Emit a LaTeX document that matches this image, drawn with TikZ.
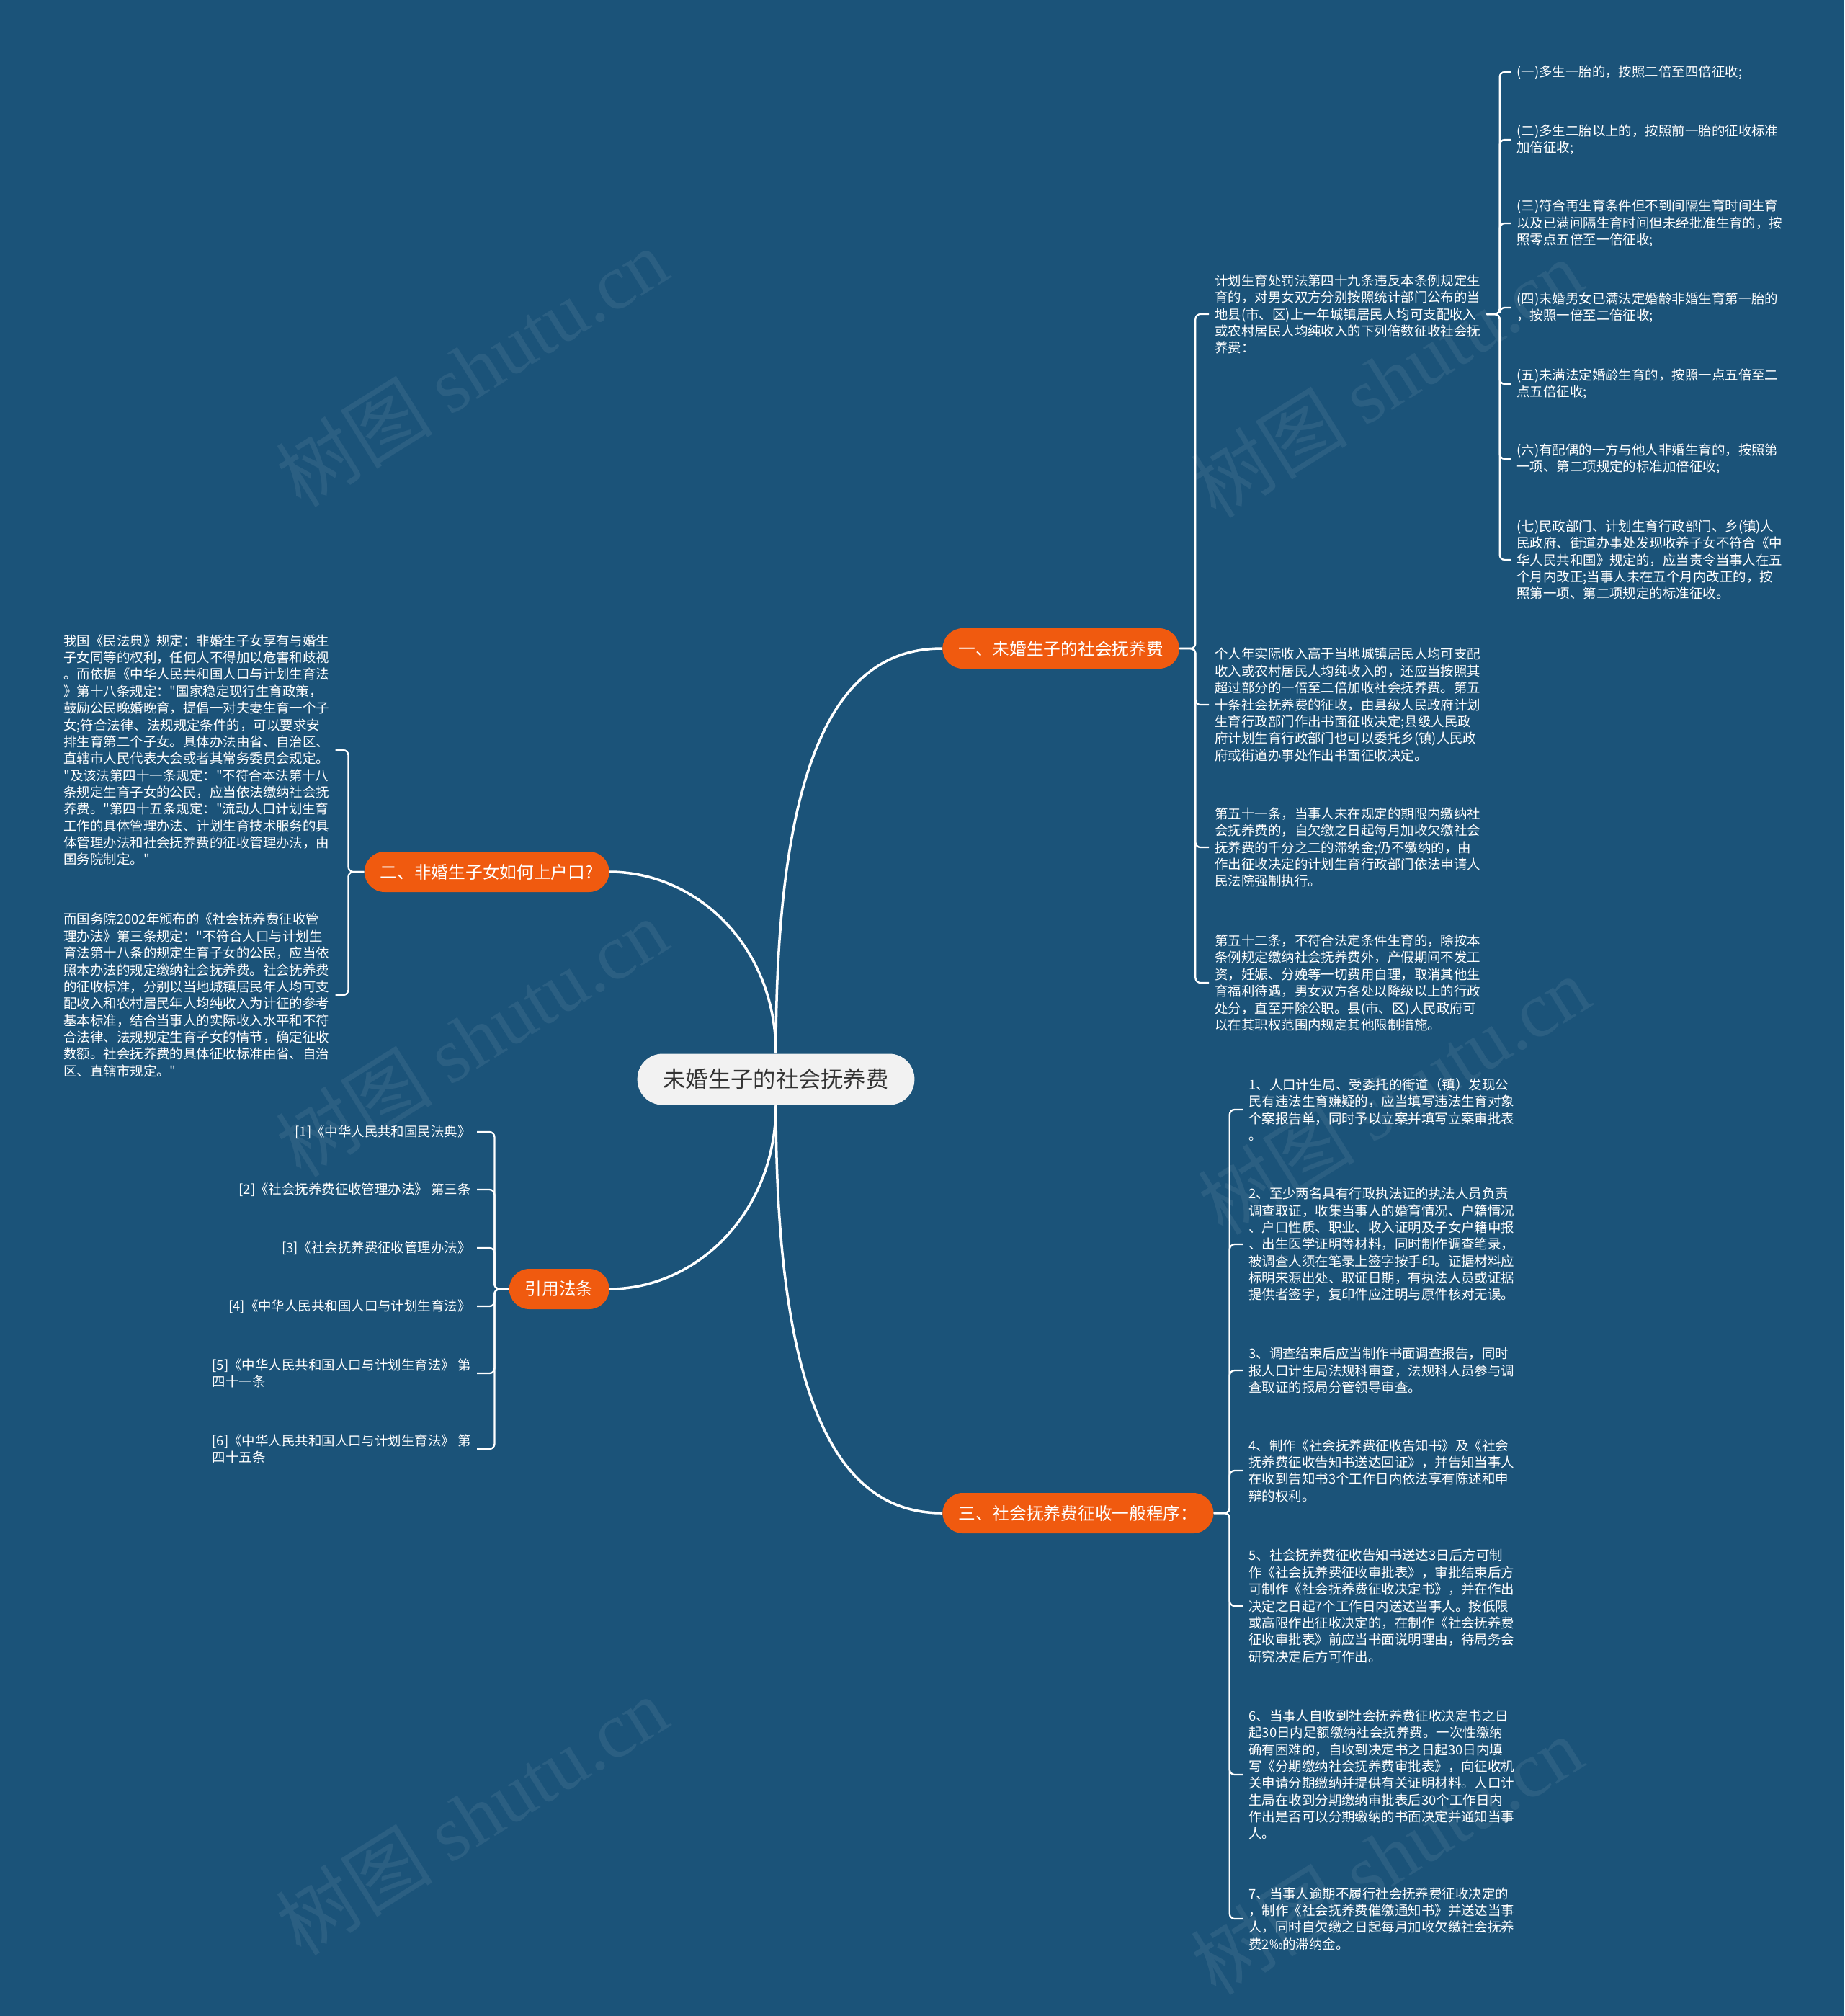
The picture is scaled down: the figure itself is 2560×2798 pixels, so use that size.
\documentclass[tikz,border=0pt]{standalone}
\usepackage{fontspec}
\setmainfont{Noto Sans CJK SC}[Ligatures=TeXOff]
\newfontfamily\wmfont{Liberation Serif}
\usepackage{xcolor}

\definecolor{bgblue}{HTML}{1B5379}
\definecolor{mainorange}{HTML}{F05A0F}
\definecolor{rootgray}{HTML}{F2F2F2}

\tikzset{
  root/.style={fill=rootgray, text=black!80, rounded corners=0.7cm, minimum height=1.42cm,
    inner xsep=0.72cm, font=\fontsize{17.8}{20}\selectfont},
  branch/.style={fill=mainorange, text=white, rounded corners=0.56cm, minimum height=1.12cm,
    inner xsep=0.44cm, font=\fontsize{13.5}{16}\selectfont},
  leaf/.style={text=white, align=left, inner xsep=0.16cm, inner ysep=0pt,
    font=\fontsize{10.5}{13.3}\selectfont},
  reftext/.style={leaf, anchor=east},
  link/.style={draw=white, line width=2pt},
  brace/.style={draw=white, line width=1.3pt, rounded corners=4pt},
  watermark/.style={text=white, opacity=0.07, rotate=32, font=\fontsize{62}{66}\selectfont}
}

\begin{document}
\begin{tikzpicture}[x=0.02cm, y=-0.02cm]

  % 0. 背景與浮水印
  \fill[bgblue] (0,0) rectangle (2560,2798);
  \useasboundingbox (0,0) rectangle (2560,2798);
  \foreach \wx/\wy in {655/510, 1925/525, 655/1440, 1935/1520, 655/2520, 1925/2575} {
    \node[watermark] at (\wx,\wy) {树图 {\wmfont shutu.cn}};
  }

  % 1. 中心主題
  \node[root] (root) at (1077,1498) {未婚生子的社会抚养费};

  % 2. 四個分支
  \node[branch, anchor=west] (fei) at (1308,900) {一、未婚生子的社会抚养费};
  \node[branch, anchor=east] (hukou) at (846,1210) {二、非婚生子女如何上户口?};
  \node[branch, anchor=east] (fatiao) at (846,1789) {引用法条};
  \node[branch, anchor=west] (chengxu) at (1308,2100) {三、社会抚养费征收一般程序：};

  \draw[link] (root.north) .. controls +(0,-464) and +(-120,0) .. (fei.west);
  \draw[link] (root.north) .. controls +(0,-150) and +(120,0) .. (hukou.east);
  \draw[link] (root.south) .. controls +(0,150) and +(120,0) .. (fatiao.east);
  \draw[link] (root.south) .. controls +(0,464) and +(-120,0) .. (chengxu.west);

  % 3. 一、未婚生子的社会抚养费
  \node[leaf, anchor=west] (fei1) at (1678,436) {计划生育处罚法第四十九条违反本条例规定生\\育的，对男女双方分别按照统计部门公布的当\\地县(市、区)上一年城镇居民人均可支配收入\\或农村居民人均纯收入的下列倍数征收社会抚\\养费：};
  \node[leaf, anchor=west] (fei2) at (1678,978) {个人年实际收入高于当地城镇居民人均可支配\\收入或农村居民人均纯收入的，还应当按照其\\超过部分的一倍至二倍加收社会抚养费。第五\\十条社会抚养费的征收，由县级人民政府计划\\生育行政部门作出书面征收决定;县级人民政\\府计划生育行政部门也可以委托乡(镇)人民政\\府或街道办事处作出书面征收决定。};
  \node[leaf, anchor=west] (fei3) at (1678,1176) {第五十一条，当事人未在规定的期限内缴纳社\\会抚养费的，自欠缴之日起每月加收欠缴社会\\抚养费的千分之二的滞纳金;仍不缴纳的，由\\作出征收决定的计划生育行政部门依法申请人\\民法院强制执行。};
  \node[leaf, anchor=west] (fei4) at (1678,1364) {第五十二条，不符合法定条件生育的，除按本\\条例规定缴纳社会抚养费外，产假期间不发工\\资，妊娠、分娩等一切费用自理，取消其他生\\育福利待遇，男女双方各处以降级以上的行政\\处分，直至开除公职。县(市、区)人民政府可\\以在其职权范围内规定其他限制措施。};

  \foreach \i in {1,...,4} {
    \draw[brace] (fei.east) -- ++(22,0) |- (fei\i.west);
  }

  % 倍數細項
  \node[leaf, anchor=west] (bei1) at (2097,100) {(一)多生一胎的，按照二倍至四倍征收;};
  \node[leaf, anchor=west] (bei2) at (2097,194) {(二)多生二胎以上的，按照前一胎的征收标准\\加倍征收;};
  \node[leaf, anchor=west] (bei3) at (2097,310) {(三)符合再生育条件但不到间隔生育时间生育\\以及已满间隔生育时间但未经批准生育的，按\\照零点五倍至一倍征收;};
  \node[leaf, anchor=west] (bei4) at (2097,427) {(四)未婚男女已满法定婚龄非婚生育第一胎的\\，按照一倍至二倍征收;};
  \node[leaf, anchor=west] (bei5) at (2097,533) {(五)未满法定婚龄生育的，按照一点五倍至二\\点五倍征收;};
  \node[leaf, anchor=west] (bei6) at (2097,637) {(六)有配偶的一方与他人非婚生育的，按照第\\一项、第二项规定的标准加倍征收;};
  \node[leaf, anchor=west] (bei7) at (2097,777) {(七)民政部门、计划生育行政部门、乡(镇)人\\民政府、街道办事处发现收养子女不符合《中\\华人民共和国》规定的，应当责令当事人在五\\个月内改正;当事人未在五个月内改正的，按\\照第一项、第二项规定的标准征收。};

  \foreach \i in {1,...,7} {
    \draw[brace] (fei1.east) -- ++(18,0) |- (bei\i.west);
  }

  % 4. 二、非婚生子女如何上户口?
  \node[leaf, anchor=west] (hk1) at (80,1041) {我国《民法典》规定：非婚生子女享有与婚生\\子女同等的权利，任何人不得加以危害和歧视\\。而依据《中华人民共和国人口与计划生育法\\》第十八条规定："国家稳定现行生育政策，\\鼓励公民晚婚晚育，提倡一对夫妻生育一个子\\女;符合法律、法规规定条件的，可以要求安\\排生育第二个子女。具体办法由省、自治区、\\直辖市人民代表大会或者其常务委员会规定。\\"及该法第四十一条规定："不符合本法第十八\\条规定生育子女的公民，应当依法缴纳社会抚\\养费。"第四十五条规定："流动人口计划生育\\工作的具体管理办法、计划生育技术服务的具\\体管理办法和社会抚养费的征收管理办法，由\\国务院制定。"};
  \node[leaf, anchor=west] (hk2) at (80,1381) {而国务院2002年颁布的《社会抚养费征收管\\理办法》第三条规定："不符合人口与计划生\\育法第十八条的规定生育子女的公民，应当依\\照本办法的规定缴纳社会抚养费。社会抚养费\\的征收标准，分别以当地城镇居民年人均可支\\配收入和农村居民年人均纯收入为计征的参考\\基本标准，结合当事人的实际收入水平和不符\\合法律、法规规定生育子女的情节，确定征收\\数额。社会抚养费的具体征收标准由省、自治\\区、直辖市规定。"};

  \foreach \i in {1,2} {
    \draw[brace] (hukou.west) -- ++(-22,0) |- (hk\i.east);
  }

  % 5. 引用法条
  \node[reftext] (ft1) at (662,1571) {[1]《中华人民共和国民法典》};
  \node[reftext] (ft2) at (662,1651) {[2]《社会抚养费征收管理办法》 第三条};
  \node[reftext] (ft3) at (662,1732) {[3]《社会抚养费征收管理办法》};
  \node[reftext] (ft4) at (662,1813) {[4]《中华人民共和国人口与计划生育法》};
  \node[reftext] (ft5) at (662,1906) {[5]《中华人民共和国人口与计划生育法》 第\\四十一条};
  \node[reftext] (ft6) at (662,2011) {[6]《中华人民共和国人口与计划生育法》 第\\四十五条};

  \foreach \i in {1,...,6} {
    \draw[brace] (fatiao.west) -- ++(-20,0) |- (ft\i.east);
  }

  % 6. 三、社会抚养费征收一般程序
  \node[leaf, anchor=west] (cx1) at (1725,1540) {1、人口计生局、受委托的街道（镇）发现公\\民有违法生育嫌疑的，应当填写违法生育对象\\个案报告单，同时予以立案并填写立案审批表\\。};
  \node[leaf, anchor=west] (cx2) at (1725,1727) {2、至少两名具有行政执法证的执法人员负责\\调查取证，收集当事人的婚育情况、户籍情况\\、户口性质、职业、收入证明及子女户籍申报\\、出生医学证明等材料，同时制作调查笔录，\\被调查人须在笔录上签字按手印。证据材料应\\标明来源出处、取证日期，有执法人员或证据\\提供者签字，复印件应注明与原件核对无误。};
  \node[leaf, anchor=west] (cx3) at (1725,1902) {3、调查结束后应当制作书面调查报告，同时\\报人口计生局法规科审查，法规科人员参与调\\查取证的报局分管领导审查。};
  \node[leaf, anchor=west] (cx4) at (1725,2041) {4、制作《社会抚养费征收告知书》及《社会\\抚养费征收告知书送达回证》，并告知当事人\\在收到告知书3个工作日内依法享有陈述和申\\辩的权利。};
  \node[leaf, anchor=west] (cx5) at (1725,2229) {5、社会抚养费征收告知书送达3日后方可制\\作《社会抚养费征收审批表》，审批结束后方\\可制作《社会抚养费征收决定书》，并在作出\\决定之日起7个工作日内送达当事人。按低限\\或高限作出征收决定的，在制作《社会抚养费\\征收审批表》前应当书面说明理由，待局务会\\研究决定后方可作出。};
  \node[leaf, anchor=west] (cx6) at (1725,2463) {6、当事人自收到社会抚养费征收决定书之日\\起30日内足额缴纳社会抚养费。一次性缴纳\\确有困难的，自收到决定书之日起30日内填\\写《分期缴纳社会抚养费审批表》，向征收机\\关申请分期缴纳并提供有关证明材料。人口计\\生局在收到分期缴纳审批表后30个工作日内\\作出是否可以分期缴纳的书面决定并通知当事\\人。};
  \node[leaf, anchor=west] (cx7) at (1725,2663) {7、当事人逾期不履行社会抚养费征收决定的\\，制作《社会抚养费催缴通知书》并送达当事\\人，同时自欠缴之日起每月加收欠缴社会抚养\\费2‰的滞纳金。};

  \foreach \i in {1,...,7} {
    \draw[brace] (chengxu.east) -- ++(22,0) |- (cx\i.west);
  }

\end{tikzpicture}
\end{document}
